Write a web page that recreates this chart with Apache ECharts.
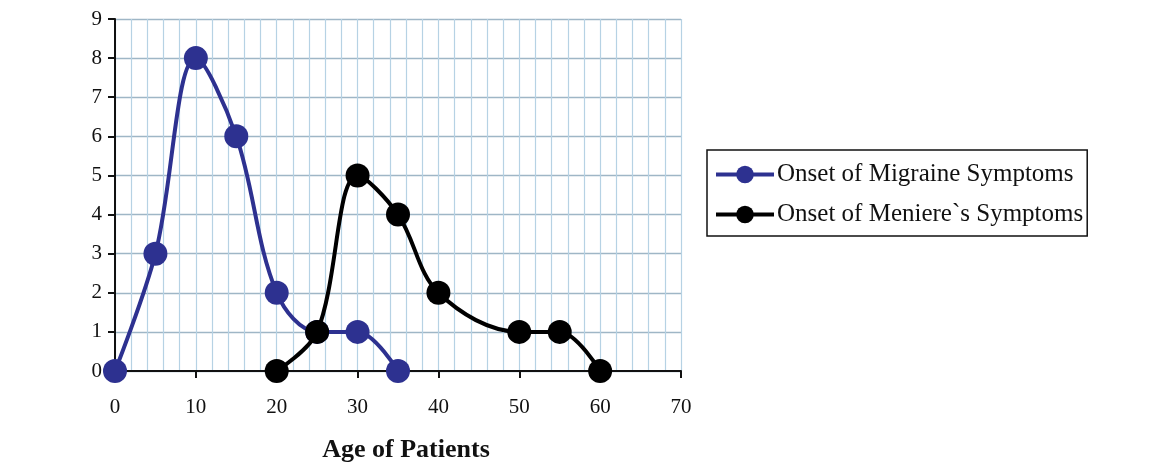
<!DOCTYPE html>
<html><head><meta charset="utf-8">
<script src="https://cdn.jsdelivr.net/npm/echarts@6/dist/echarts.min.js"></script>
<style>html,body{margin:0;padding:0;background:#fff}#c{width:1164px;height:468px}</style>
</head><body><div id="c"></div>
<script>
const migraineAges = [0, 5, 10, 15, 20, 25, 30, 35];
const migraineCounts = [0, 3, 8, 6, 2, 1, 1, 0];
const meniereAges = [20, 25, 30, 35, 40, 50, 55, 60];
const meniereCounts = [0, 1, 5, 4, 2, 1, 1, 0];
const seriesNames = ['Onset of Migraine Symptoms', 'Onset of Meniere`s Symptoms'];
const xAxisTitle = 'Age of Patients';

const pairs = (xs, ys) => xs.map((x, i) => [x, ys[i]]);
const font = 'Liberation Serif';
const chart = echarts.init(document.getElementById('c'));
chart.setOption({
  animation: false,
  backgroundColor: '#fff',
  grid: { left: 115, right: 483, top: 19, bottom: 93 },
  xAxis: {
    type: 'value', min: 0, max: 70, interval: 10,
    name: xAxisTitle, nameLocation: 'middle', nameGap: 66,
    nameTextStyle: { fontFamily: font, fontSize: 26, fontWeight: 'bold', color: '#111', padding: [0, 0, 0, 16] },
    axisLine: { show: true, onZero: false, lineStyle: { color: '#111', width: 2 } },
    axisTick: { show: true, length: 7, lineStyle: { color: '#111', width: 2 } },
    axisLabel: { fontFamily: font, fontSize: 21, color: '#111', margin: 26 },
    splitLine: { show: true, lineStyle: { color: '#b6d2e4', width: 1.2 } },
    minorTick: { show: false, splitNumber: 5 },
    minorSplitLine: { show: true, lineStyle: { color: '#b6d2e4', width: 1.2 } }
  },
  yAxis: {
    type: 'value', min: 0, max: 9, interval: 1,
    axisLine: { show: true, lineStyle: { color: '#111', width: 2 } },
    axisTick: { show: true, length: 7, lineStyle: { color: '#111', width: 2 } },
    axisLabel: { fontFamily: font, fontSize: 21, color: '#111', margin: 13 },
    splitLine: { show: true, lineStyle: { color: '#9fb6c6', width: 1.4 } }
  },
  legend: {
    orient: 'vertical', left: 707, top: 150,
    borderColor: '#111', borderWidth: 1.5, borderRadius: 0,
    padding: [12, 4, 9, 7], itemGap: 15,
    itemWidth: 58, itemHeight: 22,
    lineStyle: { width: 4 },
    textStyle: { fontFamily: font, fontSize: 25, color: '#111', padding: [0, 0, 0, -2] },
    data: seriesNames
  },
  series: [
    {
      name: seriesNames[0], type: 'line', smooth: 0.35,
      data: pairs(migraineAges, migraineCounts),
      symbol: 'circle', symbolSize: 24,
      lineStyle: { color: '#2d3190', width: 4 },
      itemStyle: { color: '#2d3190' }, z: 2
    },
    {
      name: seriesNames[1], type: 'line', smooth: 0.35,
      data: pairs(meniereAges, meniereCounts),
      symbol: 'circle', symbolSize: 24,
      lineStyle: { color: '#000', width: 4 },
      itemStyle: { color: '#000' }, z: 3
    }
  ]
});
</script></body></html>
